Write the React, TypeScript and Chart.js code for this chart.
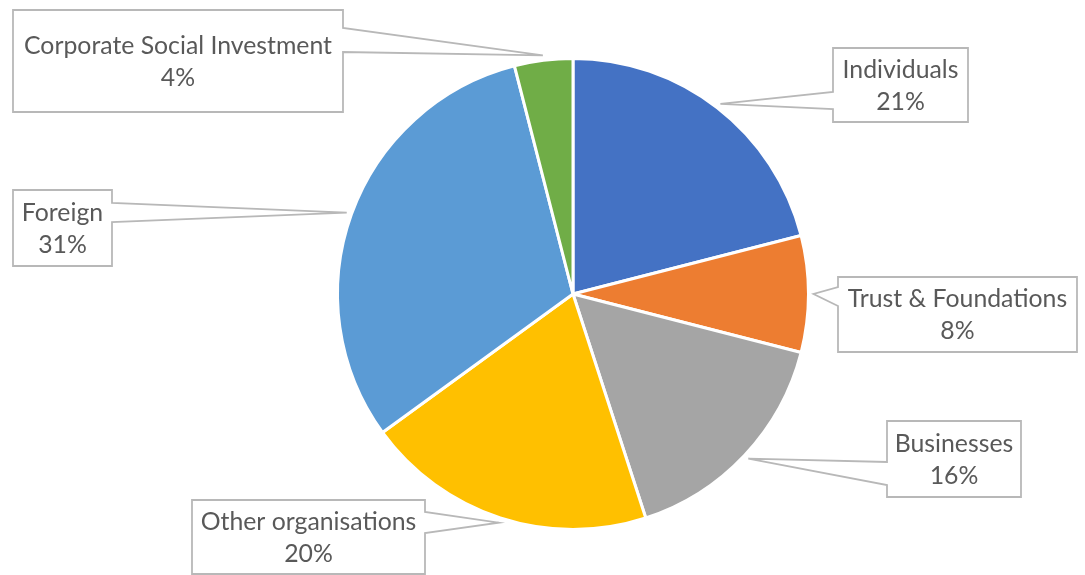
import React, { useEffect, useRef } from "react";
import { Chart, registerables } from "chart.js";

Chart.register(...registerables);

const categories = [
  "Individuals",
  "Trust & Foundations",
  "Businesses",
  "Other organisations",
  "Foreign",
  "Corporate Social Investment",
];
const shares = [21, 8, 16, 20, 31, 4];
const sliceColors = ["#4472C4", "#ED7D31", "#A5A5A5", "#FFC000", "#5B9BD5", "#70AD47"];

// callout box layout (label boxes, not marks): x, y, w, h, pointer base y1, y2
const calloutBoxes = [
  { x: 833, y: 48, w: 135, h: 74, b1: 92, b2: 109 },
  { x: 838, y: 277, w: 239, h: 75, b1: 287, b2: 306 },
  { x: 887, y: 421, w: 134, h: 76, b1: 462, b2: 485 },
  { x: 192, y: 500, w: 233, h: 74, b1: 512, b2: 533 },
  { x: 13, y: 190, w: 99, h: 76, b1: 203, b2: 222 },
  { x: 13, y: 10, w: 330, h: 102, b1: 28, b2: 52 },
];

const FONT_FAMILY = "Lato, 'Open Sans', sans-serif";

const calloutPlugin = {
  id: "callouts",
  afterDraw(chart: any) {
    const ctx = chart.ctx as CanvasRenderingContext2D;
    const meta = chart.getDatasetMeta(0);
    ctx.save();
    ctx.font = `100px ${FONT_FAMILY}`;
    const w100 = ctx.measureText("Corporate Social Investment").width;
    const fontSize = (308 / w100) * 100;
    ctx.restore();

    meta.data.forEach((arc: any, i: number) => {
      const p = arc.getProps(["x", "y", "startAngle", "endAngle", "outerRadius"], true);
      const mid = (p.startAngle + p.endAngle) / 2;
      const tx = p.x + Math.cos(mid) * (p.outerRadius + 5);
      const ty = p.y + Math.sin(mid) * (p.outerRadius + 5);
      const b = calloutBoxes[i];
      ctx.save();
      ctx.beginPath();
      if (tx > b.x + b.w) {
        ctx.moveTo(b.x, b.y);
        ctx.lineTo(b.x + b.w, b.y);
        ctx.lineTo(b.x + b.w, b.b1);
        ctx.lineTo(tx, ty);
        ctx.lineTo(b.x + b.w, b.b2);
        ctx.lineTo(b.x + b.w, b.y + b.h);
        ctx.lineTo(b.x, b.y + b.h);
        ctx.closePath();
      } else {
        ctx.moveTo(b.x, b.y);
        ctx.lineTo(b.x + b.w, b.y);
        ctx.lineTo(b.x + b.w, b.y + b.h);
        ctx.lineTo(b.x, b.y + b.h);
        ctx.lineTo(b.x, b.b2);
        ctx.lineTo(tx, ty);
        ctx.lineTo(b.x, b.b1);
        ctx.closePath();
      }
      ctx.fillStyle = "#FFFFFF";
      ctx.fill();
      ctx.strokeStyle = "#B8B8B8";
      ctx.lineWidth = 1.8;
      ctx.lineJoin = "miter";
      ctx.stroke();

      ctx.fillStyle = "#595959";
      ctx.font = `${fontSize}px ${FONT_FAMILY}`;
      ctx.textAlign = "center";
      ctx.textBaseline = "middle";
      const cx = b.x + b.w / 2;
      const cy = b.y + b.h / 2;
      ctx.fillText(categories[i], cx, cy - 15);
      ctx.fillText(`${shares[i]}%`, cx, cy + 17);
      ctx.restore();
    });
  },
};

export default function App() {
  const canvasRef = useRef<HTMLCanvasElement | null>(null);

  useEffect(() => {
    if (!canvasRef.current) return;
    const chart = new Chart(canvasRef.current, {
      type: "pie",
      data: {
        labels: categories,
        datasets: [
          {
            data: shares,
            backgroundColor: sliceColors,
            borderColor: "#FFFFFF",
            borderWidth: 3,
          },
        ],
      },
      options: {
        animation: false,
        responsive: true,
        maintainAspectRatio: false,
        layout: { padding: { left: 336, right: 275, top: 57, bottom: 44 } },
        plugins: {
          legend: { display: false },
          tooltip: { enabled: false },
        },
      },
      plugins: [calloutPlugin],
    });
    return () => chart.destroy();
  }, []);

  return (
    <div
      style={{
        position: "fixed",
        left: 0,
        top: 0,
        width: 1085,
        height: 575,
        background: "#FFFFFF",
      }}
    >
      <canvas ref={canvasRef} />
    </div>
  );
}
